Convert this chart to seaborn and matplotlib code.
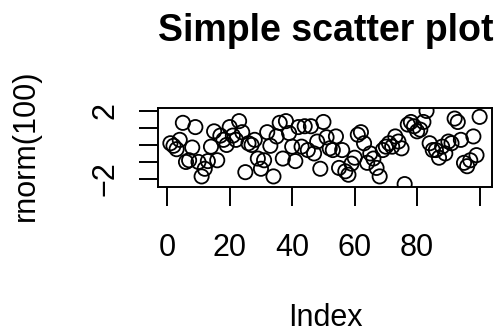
# encoding: UTF-8

import numpy as np
import matplotlib
matplotlib.use('agg')
import matplotlib.pyplot as plt
import seaborn as sns

# values (rnorm(100) against Index)
index = list(range(1, 101))
values = [
	0.1, -0.05, -0.25, 0.3, 1.3, -1.0, -0.9, -0.15, 1.05, -1.0,
	-1.85, -1.4, -0.95, -0.1, 0.8, -0.9, 0.55, 0.3, 0.0, 1.05,
	0.55, 0.3, 1.4, 0.75, -1.6, 0.1, 0.0, 0.3, -0.8, -1.4,
	-0.9, 0.75, -0.05, -1.85, 0.5, 1.3, -0.8, 1.4, 0.7, -0.1,
	-0.95, 1.05, -0.1, 1.1, -0.3, 1.1, -0.5, 0.2, -1.4, 1.35,
	0.45, -0.2, -0.3, 0.5, -1.35, -0.3, -1.55, -1.75, -1.1, -0.75,
	0.6, 0.75, 0.1, -1.05, -0.5, -0.8, -1.35, -1.85, -0.3, -0.1,
	0.1, -0.1, 0.5, 0.2, -0.2, -2.3, 1.2, 1.35, 1.1, 0.8,
	0.9, 1.35, 2.0, 0.1, -0.3, -0.3, -0.75, -0.1, -0.5, 0.2,
	0.1, 1.55, 1.35, 0.3, -1.05, -1.25, -0.9, 0.5, -0.6, 1.65,
]
xTicks = [0, 20, 40, 60, 80, 100]
xTickLabels = ['0', '20', '40', '60', '80', '']
yTicks = [-2, -1, 0, 1, 2]
yTickLabels = ['\u22122', '', '', '', '2']

sns.set_theme(style='white')
plt.rcParams['font.family'] = ['Liberation Sans', 'DejaVu Sans']
plt.rcParams['text.color'] = 'black'
plt.rcParams['axes.labelcolor'] = 'black'

fig = plt.figure(figsize=(4.98, 3.34), dpi=100)
ax = fig.add_axes([158/498, 1-187/334, (492-158)/498, 79/334])

sns.scatterplot(x=index, y=values, ax=ax, marker='o', s=105,
	facecolors='none', edgecolors='black', linewidths=1.3)

# R style axis extent: 4% padding of the data range
def padded(lo, hi):
	r = hi - lo
	return lo - 0.04*r, hi + 0.04*r

ax.set_xlim(*padded(min(index), max(index)))
ax.set_ylim(*padded(min(values), max(values)))

ax.set_xticks(xTicks)
ax.set_xticklabels(xTickLabels)
ax.set_yticks(yTicks)
ax.set_yticklabels(yTickLabels, rotation=90, va='center')
ax.tick_params(axis='both', direction='out', length=14, width=1.4, colors='black',
	labelcolor='black', labelsize=22, bottom=True, left=True)
ax.tick_params(axis='x', pad=19)
ax.tick_params(axis='y', pad=13)
for sp in ax.spines.values():
	sp.set_visible(True)
	sp.set_color('black')
	sp.set_linewidth(1.4)
ax.set_xlabel('')
ax.set_ylabel('')

fig.text(326/498, 1-41/334, 'Simple scatter plot', ha='center', va='baseline',
	fontsize=27, fontweight='bold', color='black')
fig.text(26/498, 1-145/334, 'rnorm(100)', ha='center', va='center',
	rotation=90, fontsize=22, color='black')
fig.text(325/498, 1-326/334, 'Index', ha='center', va='baseline', fontsize=22,
	color='black')

fig.savefig('out.png', dpi=100, facecolor='white')
plt.close()
